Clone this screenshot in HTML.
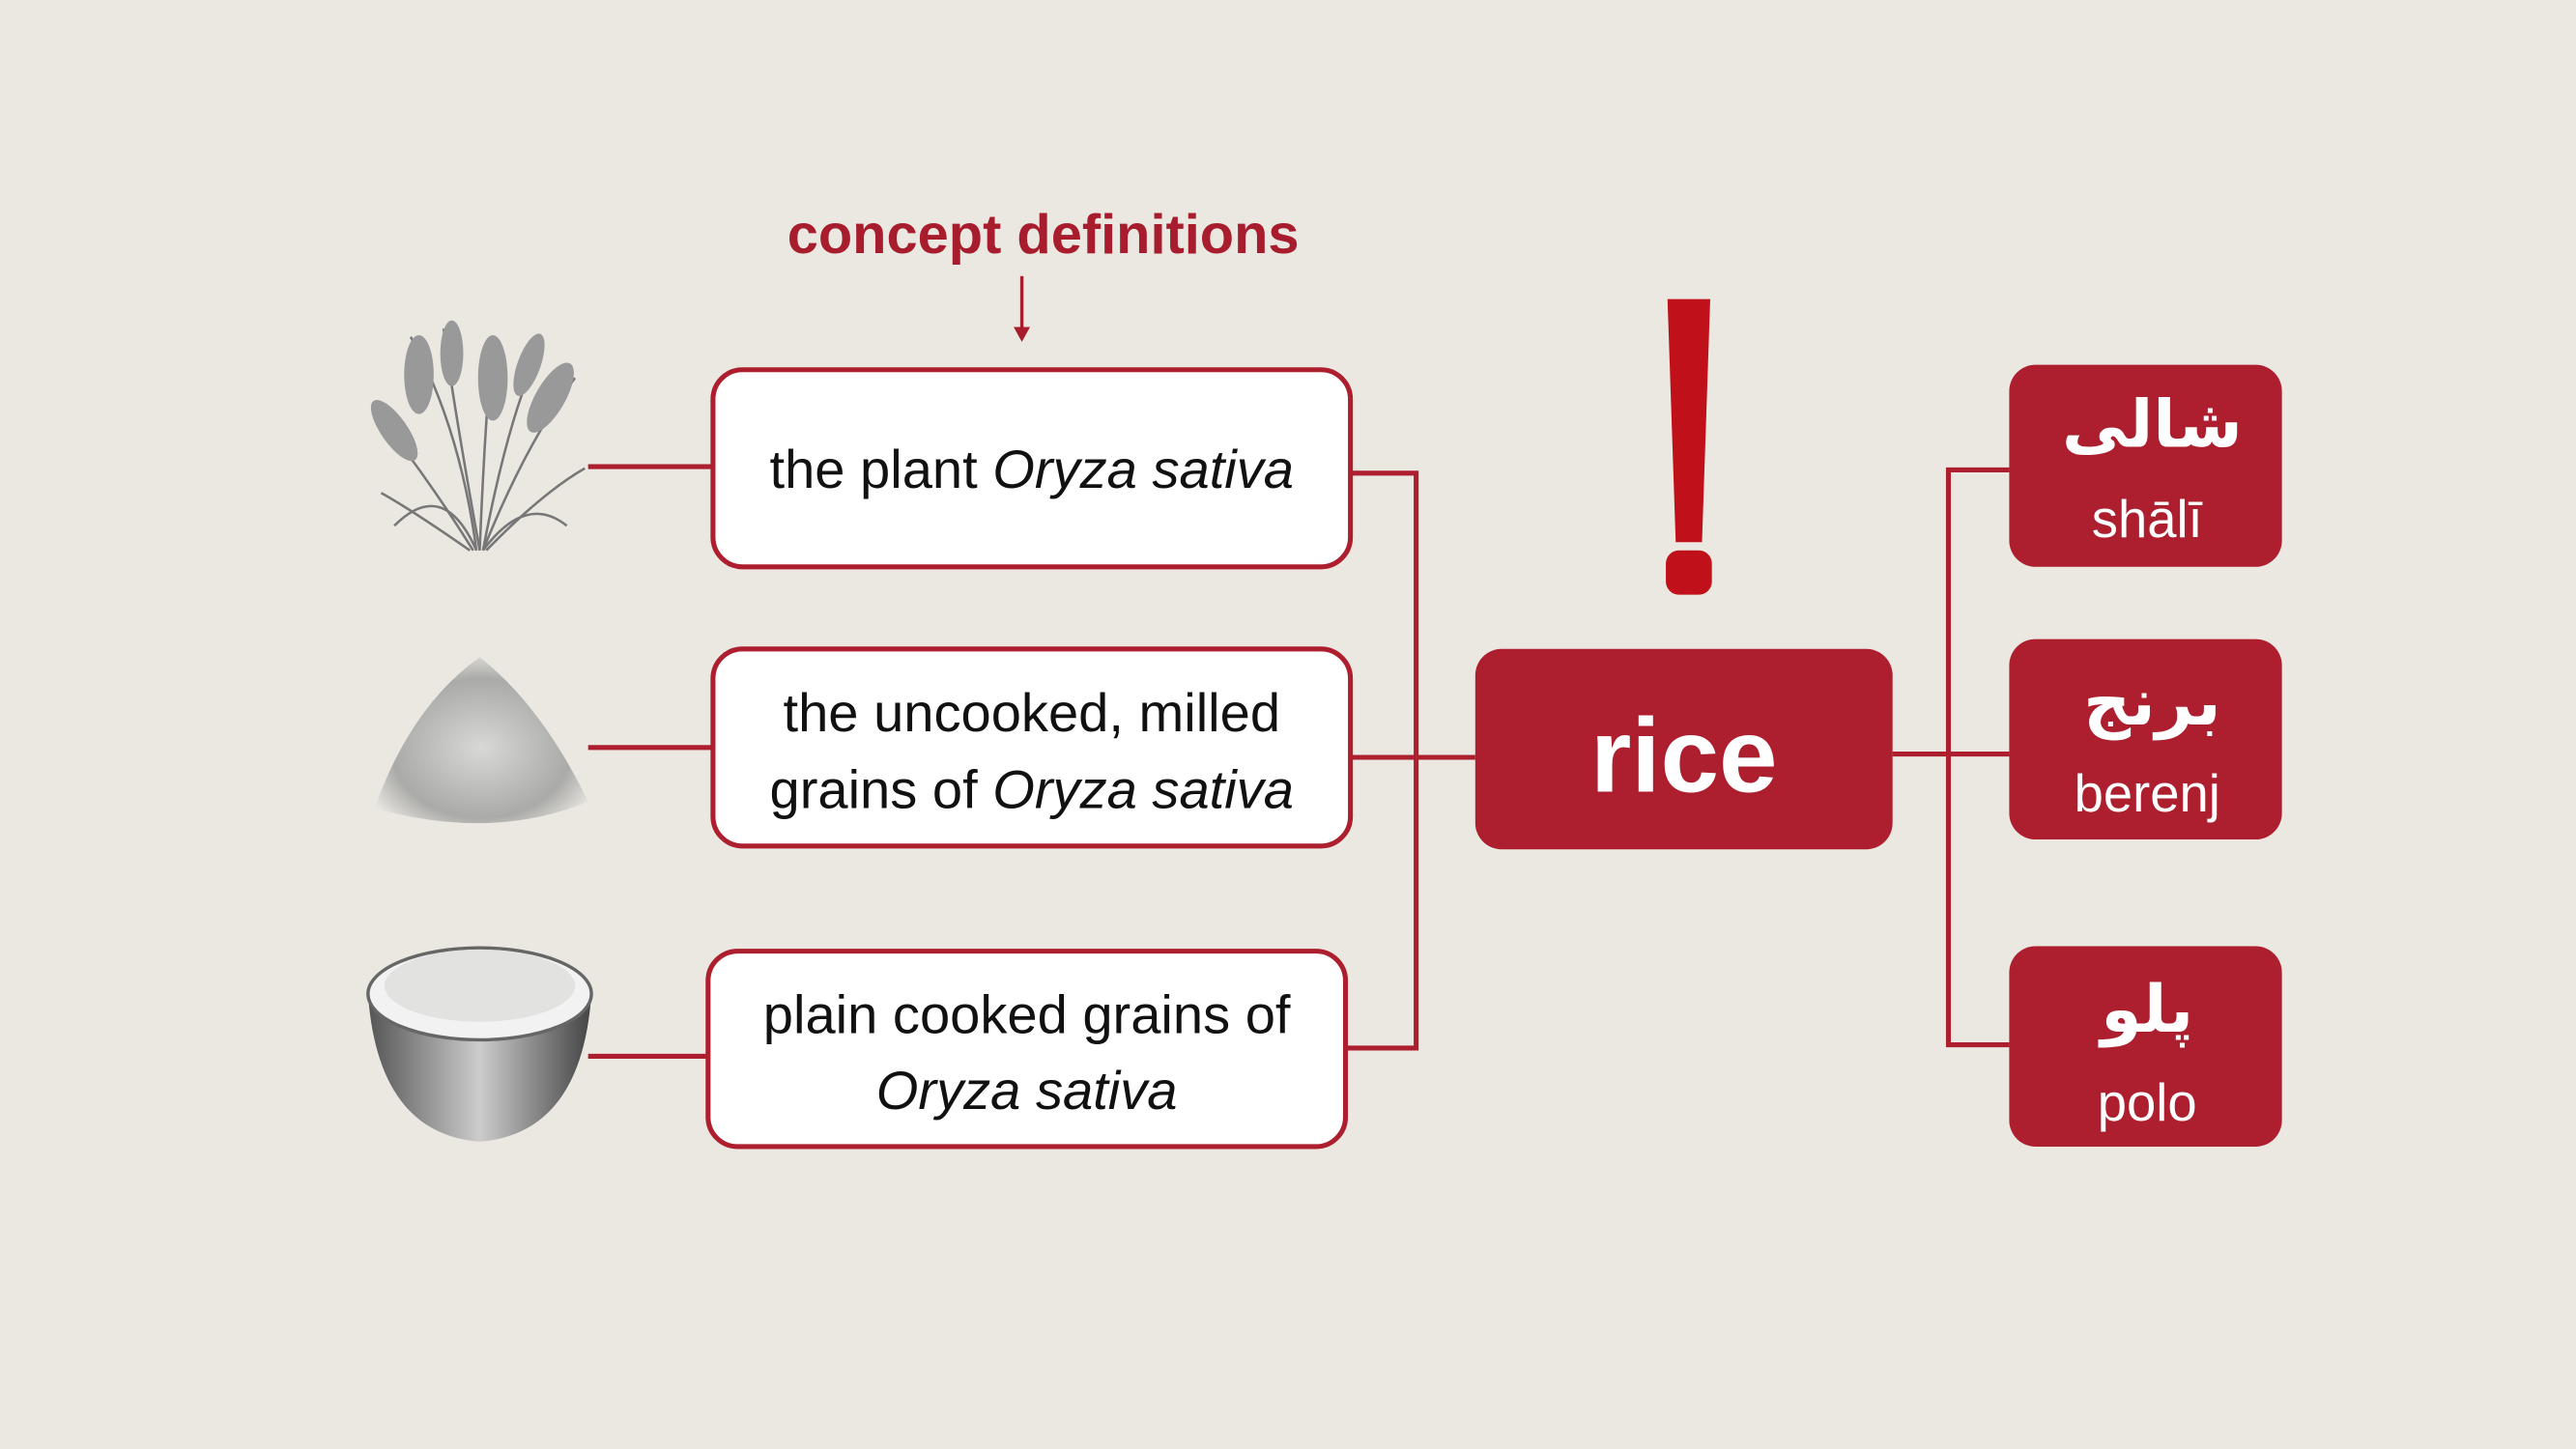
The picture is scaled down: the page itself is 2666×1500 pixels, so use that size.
<!DOCTYPE html>
<html><head><meta charset="utf-8"><style>
html,body{margin:0;padding:0;background:#ebe8e2;}
svg{display:block;}
text{font-family:"Liberation Sans","DejaVu Sans",sans-serif;}
</style></head><body>
<svg width="2666" height="1500" viewBox="0 0 1568 882" xmlns="http://www.w3.org/2000/svg">
<defs>
<radialGradient id="pile" cx="50%" cy="55%" r="60%"><stop offset="0" stop-color="#d8d8d6"/><stop offset="0.7" stop-color="#aaaaa8"/><stop offset="1" stop-color="#e8e6e0"/></radialGradient>
<linearGradient id="bowl" x1="0" y1="0" x2="1" y2="0"><stop offset="0" stop-color="#555"/><stop offset="0.5" stop-color="#ccc"/><stop offset="1" stop-color="#444"/></linearGradient>
</defs>
<rect width="1568" height="882" fill="#ebe8e2"/>
<text x="635" y="154" text-anchor="middle" font-size="34" font-weight="bold" fill="#a81d2d">concept definitions</text>
<line x1="622" y1="168" x2="622" y2="200" stroke="#a81d2d" stroke-width="2"/>
<polygon points="617,199 627,199 622,208" fill="#a81d2d"/>

<!-- plant -->
<g stroke="#777" stroke-width="1.5" fill="none">
<path d="M290 335 Q280 260 250 205"/><path d="M292 335 Q295 260 300 205"/><path d="M294 335 Q320 270 350 230"/>
<path d="M288 335 Q260 290 228 250"/><path d="M296 335 Q330 300 356 285"/><path d="M286 335 Q250 310 232 300"/>
<path d="M292 335 Q275 240 270 200"/><path d="M294 335 Q310 250 330 210"/>
<path d="M290 335 Q270 290 240 320"/><path d="M294 335 Q320 300 345 320"/>
</g>
<g fill="#999"><ellipse cx="255" cy="228" rx="9" ry="24"/><ellipse cx="300" cy="230" rx="9" ry="26"/><ellipse cx="335" cy="242" rx="9" ry="24" transform="rotate(30 335 242)"/><ellipse cx="240" cy="262" rx="8" ry="22" transform="rotate(-35 240 262)"/><ellipse cx="275" cy="215" rx="7" ry="20"/><ellipse cx="322" cy="222" rx="7" ry="20" transform="rotate(20 322 222)"/></g>
<!-- pile -->
<path d="M228 492 Q250 430 292 400 Q330 430 358 488 Q300 512 228 492Z" fill="url(#pile)"/>
<!-- bowl -->
<path d="M224 605 Q230 690 292 695 Q354 690 360 605 Z" fill="url(#bowl)"/>
<ellipse cx="292" cy="605" rx="68" ry="28" fill="#f2f2f2" stroke="#666" stroke-width="2"/>
<ellipse cx="292" cy="600" rx="58" ry="22" fill="#e2e2e0"/>

<g stroke="#ad1f2f" stroke-width="3" fill="none">
<line x1="358" y1="284" x2="434" y2="284"/>
<line x1="358" y1="455" x2="434" y2="455"/>
<line x1="358" y1="643" x2="431" y2="643"/>
<polyline points="822,288 862,288 862,638 819,638"/>
<line x1="822" y1="461" x2="898" y2="461"/>
<line x1="1152" y1="459" x2="1223" y2="459"/>
<polyline points="1223,286 1186,286 1186,636 1223,636"/>
</g>

<g fill="#fff" stroke="#ad1f2f" stroke-width="3">
<rect x="434" y="225" width="388" height="120" rx="18"/>
<rect x="434" y="395" width="388" height="120" rx="18"/>
<rect x="431" y="579" width="388" height="119" rx="18"/>
</g>
<g font-size="33" fill="#111" text-anchor="middle">
<text x="628" y="297">the plant <tspan font-style="italic">Oryza sativa</tspan></text>
<text x="628" y="445">the uncooked, milled</text>
<text x="628" y="492">grains of <tspan font-style="italic">Oryza sativa</tspan></text>
<text x="625" y="629">plain cooked grains of</text>
<text x="625" y="675" font-style="italic">Oryza sativa</text>
</g>

<rect x="898" y="395" width="254" height="122" rx="16" fill="#ad1f2f"/>
<text x="1025" y="482" text-anchor="middle" font-size="64" font-weight="bold" fill="#fff">rice</text>

<path d="M1015 182 L1041 182 L1036 330 L1020 330 Z" fill="#c0101a"/>
<rect x="1014" y="335" width="28" height="27" rx="8" fill="#c0101a"/>

<g fill="#ad1f2f">
<rect x="1223" y="222" width="166" height="123" rx="16"/>
<rect x="1223" y="389" width="166" height="122" rx="16"/>
<rect x="1223" y="576" width="166" height="122" rx="16"/>
</g>
<g fill="#fff" text-anchor="middle">
<text x="1310" y="272" font-size="40" font-weight="bold" font-family="DejaVu Sans">شالی</text>
<text x="1307" y="327" font-size="32">shālī</text>
<text x="1310" y="441" font-size="40" font-weight="bold" font-family="DejaVu Sans">برنج</text>
<text x="1307" y="494" font-size="32">berenj</text>
<text x="1307" y="628" font-size="40" font-weight="bold" font-family="DejaVu Sans">پلو</text>
<text x="1307" y="682" font-size="32">polo</text>
</g>
</svg>
</body></html>
